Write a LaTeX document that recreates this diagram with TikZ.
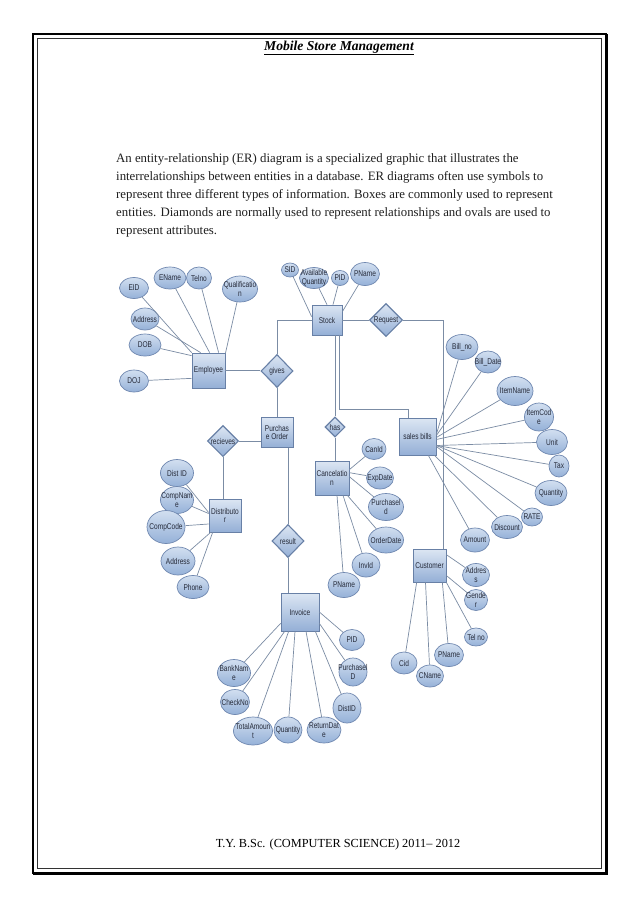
\documentclass[tikz,border=0pt]{standalone}
\usepackage{fontspec}
\setmainfont{Liberation Serif}
\newfontfamily\erfont[FakeStretch=0.78]{Liberation Sans}
\usetikzlibrary{shapes.geometric,calc}
\definecolor{entB}{HTML}{6880A6}
\definecolor{entT}{HTML}{DCE6F3}
\definecolor{entBot}{HTML}{94AFD6}
\definecolor{attB}{HTML}{7088B0}
\definecolor{attT}{HTML}{D2DFF0}
\definecolor{attBot}{HTML}{95B1D8}
\definecolor{lineC}{HTML}{7B8CA4}
\definecolor{txtC}{HTML}{262B3A}
\begin{document}
\begin{tikzpicture}[x=1pt,y=-1pt,
  attr/.style={ellipse, draw=attB, line width=0.7pt, top color=attT, bottom color=attBot, inner sep=0pt},
  ent/.style={rectangle, draw=entB, line width=0.7pt, top color=entT, bottom color=entBot, inner sep=0pt},
  rel/.style={diamond, draw=entB, line width=1.1pt, top color=entT, bottom color=entBot, inner sep=0pt},
  wh/.style 2 args={minimum width=#1, minimum height=#2},
  con/.style={draw=lineC, line width=0.7pt},
  every label/.style={font=\erfont\fontsize{8.4}{8.6}\selectfont, text=txtC, align=center, inner sep=0pt},
  para/.style={anchor=base west, inner sep=0pt, font=\fontsize{12.8}{18}\selectfont, text=black!88}
]
\useasboundingbox (0,0) rectangle (638,903);
\fill[white] (0,0) rectangle (638,903);
% page frame
\draw[line width=1.8pt, black] (33,34) rectangle (606,873);
\draw[line width=0.7pt, black!80] (37.5,38.5) rectangle (601.5,868.5);
\draw[line width=1.2pt, black] (607,34) -- (607,874) -- (33,874);

% title, paragraph, footer
\node[inner sep=0pt, font=\fontsize{13.6}{16}\selectfont\bfseries\itshape] (title) at (339,48) {\underline{Mobile Store Management}};
\node[para] (p1) at (116,162) {An entity-relationship (ER) diagram is a specialized graphic that illustrates the};
\node[para] (p2) at (116,180) {interrelationships between entities in a database. ER diagrams often use symbols to};
\node[para] (p3) at (116,198) {represent three different types of information. Boxes are commonly used to represent};
\node[para] (p4) at (116,216) {entities. Diamonds are normally used to represent relationships and ovals are used to};
\node[para] (p5) at (116,234) {represent attributes.};
\node[inner sep=0pt, font=\fontsize{12.3}{14}\selectfont] (foot) at (338,845) {T.Y. B.Sc. (COMPUTER SCIENCE) 2011– 2012};

% entities
\node[ent, wh={33}{35}, label=center:Employee] (emp) at (208.5,370.5) {};
\node[ent, wh={30}{30}, label=center:Stock] (stock) at (327,320) {};
\node[ent, wh={32}{30}, label={center:Purchas\\e Order}] (po) at (277,432.5) {};
\node[ent, wh={37}{37}, label={center:sales bills}] (sales) at (417.5,436.5) {};
\node[ent, wh={34}{34}, label={center:Cancelatio\\n}] (canc) at (332,478) {};
\node[ent, wh={32}{33}, label={center:Distributo\\r}] (dist) at (225,515.5) {};
\node[ent, wh={38}{38}, label=center:Invoice] (inv) at (300,612) {};
\node[ent, wh={33}{33}, label=center:Customer] (cust) at (429.5,565.5) {};

% relationships
\node[rel, wh={32}{33}, label=center:gives] (gives) at (277,371) {};
\node[rel, wh={33}{33}, label=center:Request] (req) at (386,320) {};
\node[rel, wh={20}{20}, label=center:has] (has) at (335,427) {};
\node[rel, wh={31}{31}, label=center:recieves] (rec) at (223,441) {};
\node[rel, wh={32}{33}, label=center:result] (res) at (288,541) {};

% employee attributes
\node[attr, wh={29}{21}, label=center:EID] (eid) at (134,288) {};
\node[attr, wh={32}{22}, label=center:EName] (ename) at (170,278) {};
\node[attr, wh={25}{22}, label=center:Telno] (telno) at (199,278) {};
\node[attr, wh={35}{26}, label={center:Qualificatio\\n}] (qual) at (240,289) {};
\node[attr, wh={28}{22}, label=center:Address] (eaddr) at (145,319) {};
\node[attr, wh={32}{22}, label=center:DOB] (dob) at (145,345) {};
\node[attr, wh={29}{22}, label=center:DOJ] (doj) at (134,381) {};

% stock attributes
\node[attr, wh={17}{14}, label=center:SID] (sid) at (290,270) {};
\node[attr, wh={29}{21}, label={center:Available\\Quantity}] (avq) at (314,278) {};
\node[attr, wh={17}{15}, label=center:PID] (spid) at (340,278) {};
\node[attr, wh={29}{23}, label=center:PName] (spname) at (365,274) {};

% sales bills attributes
\node[attr, wh={32}{25}, label=center:Bill\_no] (billno) at (462,347) {};
\node[attr, wh={26}{22}, label=center:Bill\_Date] (billdate) at (488,362) {};
\node[attr, wh={36}{29}, label=center:ItemName] (itemname) at (515,391) {};
\node[attr, wh={29}{28}, label={center:ItemCod\\e}] (itemcode) at (539,417) {};
\node[attr, wh={31}{25}, label=center:Unit] (unit) at (552,442) {};
\node[attr, wh={20}{22}, label=center:Tax] (tax) at (559,466) {};
\node[attr, wh={32}{25}, label=center:Quantity] (qty) at (551,493) {};
\node[attr, wh={21}{18}, label=center:RATE] (rate) at (532,517) {};
\node[attr, wh={31}{23}, label=center:Discount] (disc) at (507,527) {};
\node[attr, wh={29}{24}, label=center:Amount] (amount) at (475,540) {};

% customer attributes
\node[attr, wh={27}{23}, label={center:Addres\\s}] (caddr) at (476,575) {};
\node[attr, wh={23}{21}, label={center:Gende\\r}] (gender) at (476,600) {};
\node[attr, wh={23}{18}, label=center:Tel no] (telno2) at (476,637) {};
\node[attr, wh={29}{23}, label=center:PName] (cpname) at (449,655) {};
\node[attr, wh={27}{22}, label=center:CName] (cname) at (430,676) {};
\node[attr, wh={26}{22}, label=center:Cid] (cid) at (404,663) {};

% cancellation attributes
\node[attr, wh={24}{21}, label=center:CanId] (canid) at (374,449) {};
\node[attr, wh={27}{22}, label=center:ExpDate] (expdate) at (380,478) {};
\node[attr, wh={35}{27}, label={center:Purchasel\\d}] (purchid) at (386,507) {};
\node[attr, wh={35}{26}, label=center:OrderDate] (orderdate) at (386,540) {};
\node[attr, wh={28}{24}, label=center:InvId] (invid) at (366,565) {};
\node[attr, wh={32}{25}, label=center:PName] (kpname) at (344,585) {};

% distributor attributes
\node[attr, wh={33}{27}, label=center:Dist ID] (distid) at (177,473) {};
\node[attr, wh={33}{27}, label={center:CompNam\\e}] (compname) at (177,500) {};
\node[attr, wh={38}{33}, label=center:CompCode] (compcode) at (166,527) {};
\node[attr, wh={34}{28}, label=center:Address] (daddr) at (178,561) {};
\node[attr, wh={32}{23}, label=center:Phone] (phone) at (193,587) {};

% invoice attributes
\node[attr, wh={25}{21}, label=center:PID] (ipid) at (352,640) {};
\node[attr, wh={28}{28}, label={center:Purchasel\\D}] (ipurch) at (353,672) {};
\node[attr, wh={28}{30}, label=center:DistID] (idist) at (347,708) {};
\node[attr, wh={34}{26}, label={center:ReturnDat\\e}] (iret) at (324,730) {};
\node[attr, wh={28}{26}, label=center:Quantity] (iqty) at (288,730) {};
\node[attr, wh={39}{28}, label={center:TotalAmoun\\t}] (itot) at (253,731) {};
\node[attr, wh={29}{25}, label=center:CheckNo] (icheck) at (235,702) {};
\node[attr, wh={33}{27}, label={center:BankNam\\e}] (ibank) at (234,673) {};

% relationship connectors
\draw[con] (emp.east) -- (emp.east -| gives.west);
\draw[con] (stock.west) -| (gives.north);
\draw[con] (gives.south) -- (gives.south |- po.north);
\draw[con] (stock.east) -- (req.west);
\draw[con] (req.east) -| ([xshift=13.5pt]cust.north);
\draw[con] ([xshift=8pt]stock.south) -- (has.north);
\coordinate (bend) at (339,409);
\draw[con] ([xshift=12pt]stock.south) -- (bend) -| ([xshift=-9.5pt]sales.north);
\draw[con] (has.south) -- (has.south |- canc.north);
\draw[con] (rec.east) -- (rec.east -| po.west);
\draw[con] (rec.south) -- (rec.south |- dist.north);
\draw[con] (res.north |- po.south) -- (res.north);
\draw[con] (res.south) -- (res.south |- inv.north);

% employee
\draw[con] (eid) -- (emp.north west);
\draw[con] (eaddr) -- ($(emp.north west)+(9,0)$);
\draw[con] (ename) -- ($(emp.north west)+(18,0)$);
\draw[con] (telno) -- ($(emp.north west)+(27,0)$);
\draw[con] (qual) -- ($(emp.north east)+(0,1)$);
\draw[con] (dob) -- ($(emp.north west)+(0,3)$);
\draw[con] (doj) -- ($(emp.south west)+(0,-10)$);
% stock
\draw[con] (sid) -- ($(stock.north west)+(0,12)$);
\draw[con] (avq) -- (stock.north);
\draw[con] (spid) -- ($(stock.north)+(6,0)$);
\draw[con] (spname) -- ($(stock.north east)+(0,7)$);
% sales bills
\draw[con] (billno) -- ($(sales.east)+(0,-2)$);
\draw[con] (billdate) -- ($(sales.east)+(0,-1)$);
\draw[con] (itemname) -- ($(sales.east)+(0,1)$);
\draw[con] (itemcode) -- ($(sales.east)+(0,3)$);
\draw[con] (unit) -- ($(sales.east)+(0,9)$);
\draw[con] (tax) -- ($(sales.east)+(0,9)$);
\draw[con] (qty) -- ($(sales.east)+(0,9)$);
\draw[con] (rate) -- ($(sales.east)+(0,10)$);
\draw[con] (disc) -- ($(sales.south east)+(-2,0)$);
\draw[con] (amount) -- ($(sales.south east)+(-8,0)$);
% customer
\draw[con] (caddr) -- ($(cust.north east)+(0,6)$);
\draw[con] (gender) -- ($(cust.east)+(0,10)$);
\draw[con] (telno2) -- (cust.south east);
\draw[con] (cpname) -- ($(cust.south east)+(-4,0)$);
\draw[con] (cname) -- ($(cust.south)+(-4,0)$);
\draw[con] (cid) -- ($(cust.south west)+(4,0)$);
% cancellation
\draw[con] (canid) -- ($(canc.north east)+(0,9)$);
\draw[con] (expdate) -- ($(canc.north east)+(0,12)$);
\draw[con] (purchid) -- ($(canc.north east)+(0,16)$);
\draw[con] (orderdate) -- ($(canc.south east)+(-2,0)$);
\draw[con] (invid) -- ($(canc.south)+(11,0)$);
\draw[con] (kpname) -- ($(canc.south)+(5,0)$);
% distributor
\draw[con] (distid) -- ($(dist.west)+(0,-3)$);
\draw[con] (compname) -- ($(dist.west)+(0,-2)$);
\draw[con] (compcode) -- ($(dist.west)+(0,8.5)$);
\draw[con] (daddr) -- ($(dist.south west)+(2,0)$);
\draw[con] (phone) -- ($(dist.south west)+(4,0)$);
% invoice
\draw[con] (ibank) -- ($(inv.south west)+(0,-8)$);
\draw[con] (icheck) -- ($(inv.south west)+(4,0)$);
\draw[con] (itot) -- ($(inv.south west)+(8,0)$);
\draw[con] (iqty) -- ($(inv.south)+(-5,0)$);
\draw[con] (iret) -- ($(inv.south)+(6,0)$);
\draw[con] (idist) -- ($(inv.south east)+(-4,0)$);
\draw[con] (ipurch) -- ($(inv.south east)+(0,-8)$);
\draw[con] (ipid) -- (inv.east);
\end{tikzpicture}
\end{document}
